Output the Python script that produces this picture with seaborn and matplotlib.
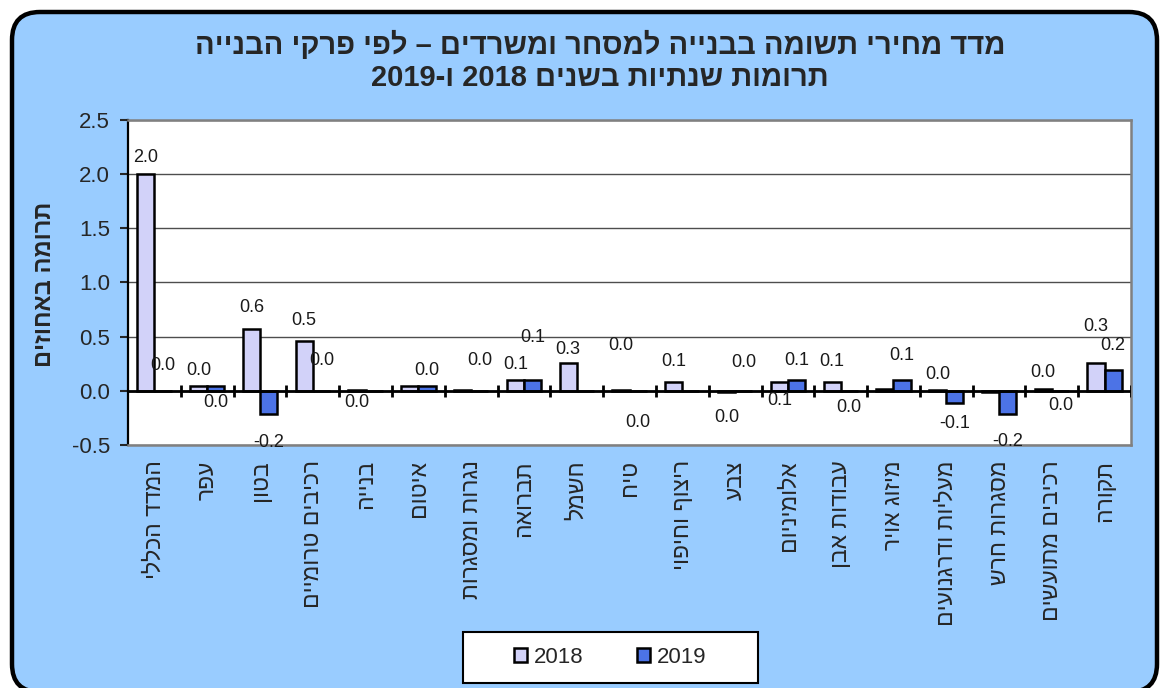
import re
import numpy as np
import pandas as pd
import seaborn as sns
import matplotlib.pyplot as plt
from matplotlib.patches import FancyBboxPatch, Rectangle

# data
categories = ["המדד הכללי", "עפר", "בטון", "רכיבים טרומיים", "בנייה", "איטום",
              "נגרות ומסגרות", "תברואה", "חשמל", "טיח", "ריצוף וחיפוי", "צבע",
              "אלומיניום", "עבודות אבן", "מיזוג אויר", "מעליות ודרגנועים",
              "מסגרות חרש", "רכיבים מתועשים", "תקורה"]
years = ["2018", "2019"]
values_2018 = [2.0, 0.04, 0.57, 0.46, 0.01, 0.04, 0.01, 0.1, 0.26, 0.01,
               0.08, -0.01, 0.08, 0.08, 0.02, 0.01, -0.01, 0.02, 0.26]
values_2019 = [0.0, 0.04, -0.21, 0.0, 0.0, 0.04, 0.0, 0.1, 0.0, 0.0,
               0.0, 0.0, 0.1, 0.0, 0.1, -0.11, -0.21, 0.0, 0.19]

title_1 = "מדד מחירי תשומה בבנייה למסחר ומשרדים – לפי פרקי הבנייה"
title_2 = "תרומות שנתיות בשנים 2018 ו-2019"
y_title = "תרומה באחוזים"

# where each value label sits relative to its bar end (None = not shown)
label_dy_2018 = [0.15, 0.15, 0.2, 0.19, -0.11, None, None, 0.14, 0.12, 0.41,
                 0.19, -0.24, -0.09, 0.19, None, 0.14, None, 0.15, 0.33]
label_dy_2019 = [0.23, -0.11, -0.27, 0.28, None, 0.15, 0.28, 0.39, None, -0.29,
                 None, 0.26, 0.18, -0.15, 0.23, -0.19, -0.26, -0.14, 0.23]

colors = {"2018": "#CCCCFF", "2019": "#3366FF"}
bg_blue = "#99CCFF"


def rtl(s):
    # matplotlib has no bidi: reverse characters, keep digit runs intact
    parts = re.findall(r"\d+|\D", s)
    return "".join(reversed(parts))


df = pd.DataFrame({
    "category": categories * 2,
    "year": [years[0]] * len(categories) + [years[1]] * len(categories),
    "value": values_2018 + values_2019,
})

sns.set_style("white")
plt.rcParams["font.family"] = ["Liberation Sans", "DejaVu Sans"]

fig = plt.figure(figsize=(11.61, 6.88), dpi=100)
fig.patch.set_facecolor("white")

# rounded blue panel behind everything, in pixel units
bg = fig.add_axes([0, 0, 1, 1], zorder=-1)
bg.set_xlim(0, 1161)
bg.set_ylim(688, 0)
bg.axis("off")
bg.add_patch(FancyBboxPatch((12, 12), 1145, 680,
                            boxstyle="round,pad=0,rounding_size=28",
                            fc=bg_blue, ec="black", lw=3.2))
bg.add_patch(Rectangle((463, 632), 295, 51, fc="white", ec="black", lw=1.5))

ax = fig.add_axes([0.1103, 0.3532, 0.8639, 0.4724])
ax.set_facecolor("white")
sns.barplot(data=df, x="category", y="value", hue="year", order=categories,
            hue_order=years, palette=colors, width=0.65, edgecolor="black",
            linewidth=1.8, ax=ax, zorder=2)

ax.set_ylim(-0.5, 2.5)
ax.set_yticks(np.arange(-0.5, 2.51, 0.5))
ax.set_yticklabels([f"{t:.1f}" for t in np.arange(-0.5, 2.51, 0.5)], fontsize=16)
ax.yaxis.grid(True, color="#4d4d4d", lw=1)
ax.set_axisbelow(True)
ax.tick_params(axis="y", direction="out", length=6, width=1.5, left=True, pad=7)

ax.set_xticks(range(len(categories)))
ax.set_xticklabels([rtl(c) for c in categories], rotation=90, fontsize=16.5)
ax.tick_params(axis="x", length=0, pad=11)
ax.set_xlabel("")
ax.set_ylabel("")

for side in ["top", "right", "bottom"]:
    ax.spines[side].set_color("#808080")
    ax.spines[side].set_linewidth(1.8)
ax.spines["left"].set_color("black")
ax.spines["left"].set_linewidth(1.6)

# category axis drawn at zero, with cross ticks between groups
ax.axhline(0, color="black", lw=2, zorder=3)
ax.vlines(np.arange(len(categories)) + 0.5, -0.055, 0.055, color="black", lw=2, zorder=3)
ax.set_xlim(-0.5, len(categories) - 0.5)

# value labels
for cont, dys in zip(ax.containers, [label_dy_2018, label_dy_2019]):
    for bar, dy in zip(cont, dys):
        if dy is None:
            continue
        v = bar.get_height()
        base = max(v, 0) if dy > 0 else min(v, 0)
        txt = f"{round(v, 1) + 0.0:.1f}"
        ax.text(bar.get_x() + bar.get_width() / 2, base + dy, txt,
                ha="center", va="center", fontsize=13, color="#1a1a1a", zorder=4)

handles, labels = ax.get_legend_handles_labels()
ax.get_legend().remove()
fig.legend(handles, labels, loc="center", bbox_to_anchor=(0.5254, 0.045),
           ncol=2, frameon=False, fontsize=16, handlelength=0.6, handleheight=0.6,
           handletextpad=0.3, columnspacing=2.4)

fig.text(600 / 1161, 1 - 45 / 688, rtl(title_1), ha="center", va="center",
         fontsize=21, fontweight="bold")
fig.text(600 / 1161, 1 - 78 / 688, rtl(title_2), ha="center", va="center",
         fontsize=21, fontweight="bold")
fig.text(45 / 1161, 1 - 284 / 688, rtl(y_title), ha="center", va="center",
         rotation=90, fontsize=17, fontweight="bold")

plt.savefig("out.png", dpi=100)
